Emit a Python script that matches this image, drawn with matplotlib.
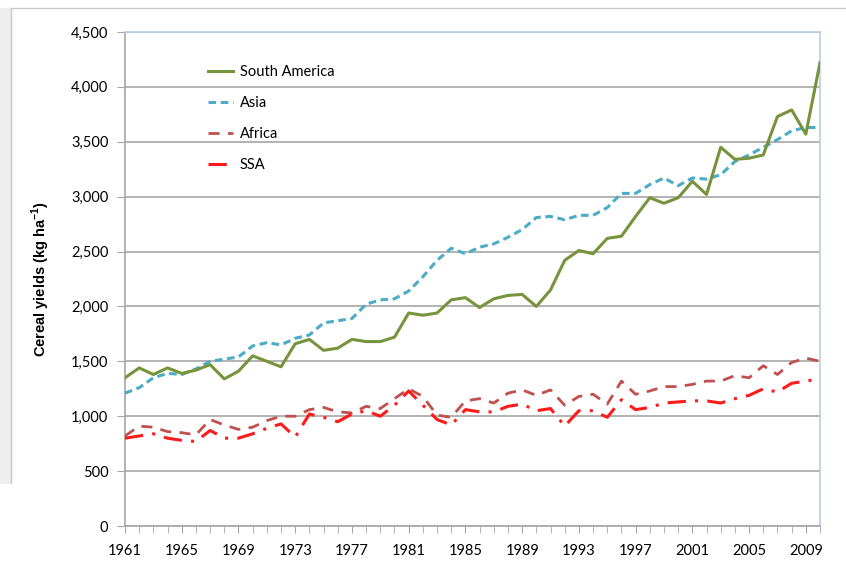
import numpy as np
import matplotlib.pyplot as plt
from matplotlib.lines import Line2D
from matplotlib.patches import Rectangle

# --- data --- #
years = list(range(1961, 2011))

south_america = [1350, 1440, 1380, 1440, 1390, 1420, 1470, 1340, 1410, 1550,
                 1500, 1450, 1660, 1700, 1600, 1620, 1700, 1680, 1680, 1720,
                 1940, 1920, 1940, 2060, 2080, 1990, 2070, 2100, 2110, 2000,
                 2150, 2420, 2510, 2480, 2620, 2640, 2820, 2990, 2940, 2990,
                 3140, 3020, 3450, 3340, 3350, 3380, 3730, 3790, 3570, 4220]

asia = [1210, 1260, 1350, 1390, 1380, 1430, 1500, 1520, 1540, 1640,
        1670, 1650, 1710, 1740, 1850, 1870, 1890, 2020, 2060, 2070,
        2140, 2270, 2420, 2530, 2480, 2540, 2570, 2630, 2700, 2810,
        2820, 2790, 2830, 2830, 2900, 3030, 3030, 3110, 3170, 3100,
        3170, 3160, 3200, 3320, 3380, 3450, 3520, 3600, 3630, 3630]

africa = [820, 910, 900, 860, 850, 830, 970, 920, 880, 900,
          960, 1000, 1000, 1060, 1080, 1040, 1030, 1090, 1070, 1160,
          1250, 1180, 1010, 990, 1140, 1160, 1120, 1210, 1240, 1190,
          1240, 1100, 1180, 1200, 1110, 1320, 1200, 1230, 1270, 1270,
          1290, 1320, 1320, 1370, 1350, 1460, 1380, 1490, 1530, 1500]

ssa = [800, 820, 840, 800, 780, 770, 870, 800, 800, 840,
       890, 930, 810, 1020, 990, 950, 1020, 1050, 1000, 1100,
       1230, 1100, 970, 920, 1060, 1040, 1040, 1090, 1110, 1050,
       1070, 910, 1050, 1050, 990, 1150, 1060, 1080, 1120, 1130,
       1140, 1140, 1120, 1160, 1190, 1250, 1220, 1300, 1320, 1340]

yticks = list(range(0, 5000, 500))
xlabels = list(range(1961, 2010, 4))

# colours
c_sa = '#77933C'
c_asia = '#4BACC6'
c_afr = '#C0504D'
c_ssa = '#FF1A1A'

fig = plt.figure(figsize=(8.46, 5.68), dpi=100)
# the grey strip and frame of the screenshot
fig.patches.append(Rectangle((0, 1 - 483/568), 10/846, 483/568 - 8/568,
                             transform=fig.transFigure, color='#eeeeee', zorder=0))
fig.lines.append(Line2D([11/846, 11/846], [1 - 8/568, 1 - 483/568],
                        transform=fig.transFigure, color='#c8c8c8', lw=1))
fig.lines.append(Line2D([11/846, 1], [1 - 8/568, 1 - 8/568],
                        transform=fig.transFigure, color='#c8c8c8', lw=1))

ax = fig.add_axes([125/846, 1 - 526/568, 695/846, 494/568])

x = np.array(years)
ax.plot(x, south_america, color=c_sa, lw=2.2, label='South America', zorder=4)
ax.plot(x, asia, color=c_asia, lw=2.2, ls=(0, (2.5, 1.5)), label='Asia', zorder=3)
ax.plot(x, africa, color=c_afr, lw=2.0, ls=(0, (4, 3)), label='Africa', zorder=3)
ax.plot(x, ssa, color=c_ssa, lw=2.2, ls=(0, (6, 3, 1, 3)), label='SSA', zorder=3)

ax.set_xlim(1961, 2010)
ax.set_ylim(0, 4500)
ax.set_yticks(yticks)
ax.set_yticklabels([f'{v:,}' for v in yticks])
ax.set_xticks(years, minor=True)
ax.set_xticks(xlabels)
ax.set_xticklabels([str(v) for v in xlabels])

ax.yaxis.grid(True, color='#a6a6a6', lw=1.2)
ax.set_axisbelow(True)

for s in ['left', 'bottom']:
    ax.spines[s].set_color('#a6a6a6')
    ax.spines[s].set_linewidth(1.2)
for s in ['top', 'right']:
    ax.spines[s].set_color('#b9cde5')
    ax.spines[s].set_linewidth(1.2)

ax.tick_params(axis='y', length=6, color='#a6a6a6', labelsize=10.5, pad=6)
ax.tick_params(axis='x', which='both', length=5, color='#a6a6a6', labelsize=10.5, pad=8)
for lab in ax.get_xticklabels() + ax.get_yticklabels():
    lab.set_family('Lato')

ax.set_ylabel('Cereal yields (kg ha$^{\\mathregular{-1}}$)', fontsize=10.5,
              fontweight='bold', family='Liberation Sans', labelpad=14)

leg = ax.legend(loc='upper left', bbox_to_anchor=(0.1, 0.96), frameon=False,
                handlelength=1.75, handletextpad=0.45, labelspacing=1.17,
                prop={'family': 'Lato', 'size': 10.5})

fig.savefig('out.png', dpi=100)
